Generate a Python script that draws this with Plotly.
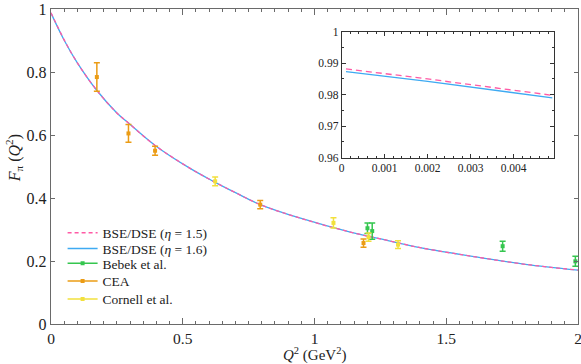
import plotly.graph_objects as go

# ---- model curves (main panel) ----
q2_curve = [0, 0.05, 0.1, 0.1735, 0.25, 0.294, 0.395, 0.528, 0.616, 0.7, 0.794,
            0.95, 1.136, 1.2875, 1.401, 1.629, 1.8, 2.0]
f_eta16 = [0.987, 0.901, 0.829, 0.742, 0.670, 0.638, 0.567, 0.494, 0.453, 0.417, 0.379,
           0.335, 0.2918, 0.2634, 0.2423, 0.2107, 0.1895, 0.171]
f_eta15 = [0.988, 0.902, 0.829, 0.742, 0.670, 0.638, 0.567, 0.494, 0.453, 0.417, 0.379,
           0.335, 0.2918, 0.2634, 0.2423, 0.2107, 0.1895, 0.171]

# ---- model curves (inset, small Q^2) ----
q2_inset = [0.0001, 0.002, 0.0049]
f_inset_eta16 = [0.9873, 0.9842, 0.9790]
f_inset_eta15 = [0.9882, 0.9850, 0.9798]

# ---- experimental data ----
bebek_q2 = [1.201, 1.219, 1.714, 1.990]
bebek_f = [0.304, 0.295, 0.247, 0.199]
bebek_err = [0.017, 0.026, 0.016, 0.016]

cea_q2 = [0.174, 0.294, 0.395, 0.794, 1.186]
cea_f = [0.784, 0.605, 0.550, 0.379, 0.257]
cea_err = [0.045, 0.028, 0.014, 0.013, 0.013]

cornell_q2 = [0.623, 1.072, 1.205, 1.317]
cornell_f = [0.453, 0.321, 0.276, 0.252]
cornell_err = [0.014, 0.016, 0.013, 0.012]

x_ticks = [0, 0.5, 1, 1.5, 2]
x_ticklabels = ["0", "0.5", "1", "1.5", "2"]
y_ticks = [0, 0.2, 0.4, 0.6, 0.8, 1]
y_ticklabels = ["0", "0.2", "0.4", "0.6", "0.8", "1"]
inset_x_ticks = [0, 0.001, 0.002, 0.003, 0.004]
inset_x_ticklabels = ["0", "0.001", "0.002", "0.003", "0.004"]
inset_y_ticks = [0.96, 0.97, 0.98, 0.99, 1.0]
inset_y_ticklabels = ["0.96", "0.97", "0.98", "0.99", "1"]

PINK = "#ff5aa5"
BLUE = "#3eaaf2"
GREEN = "#35c64f"
ORANGE = "#eb9c15"
YELLOW = "#f2e03c"
FONT = "Liberation Serif, DejaVu Serif, serif"

fig = go.Figure()

# main curves
fig.add_trace(go.Scatter(x=q2_curve, y=f_eta16, mode="lines", line=dict(color=BLUE, width=1.3, shape="spline"),
                         name="BSE/DSE (<i>η</i> = 1.6)", legend="legend2"))
fig.add_trace(go.Scatter(x=q2_curve, y=f_eta15, mode="lines",
                         line=dict(color=PINK, width=1.3, dash="4px,3px", shape="spline"),
                         name="BSE/DSE (<i>η</i> = 1.5)", legend="legend"))


def data_trace(x, y, err, color, name, legend_id):
    fig.add_trace(go.Scatter(x=x, y=y, mode="markers", showlegend=False,
                             marker=dict(symbol="square", size=4, color=color),
                             error_y=dict(type="data", array=err, color=color, thickness=1.5, width=3)))
    fig.add_trace(go.Scatter(x=[None], y=[None], mode="lines+markers", name=name, legend=legend_id,
                             marker=dict(symbol="square", size=4, color=color),
                             line=dict(color=color, width=1.5)))


data_trace(bebek_q2, bebek_f, bebek_err, GREEN, "Bebek et al.", "legend3")
data_trace(cea_q2, cea_f, cea_err, ORANGE, "CEA", "legend4")
data_trace(cornell_q2, cornell_f, cornell_err, YELLOW, "Cornell et al.", "legend5")

# inset curves
fig.add_trace(go.Scatter(x=q2_inset, y=f_inset_eta16, mode="lines", xaxis="x2", yaxis="y2",
                         line=dict(color=BLUE, width=1.3), showlegend=False))
fig.add_trace(go.Scatter(x=q2_inset, y=f_inset_eta15, mode="lines", xaxis="x2", yaxis="y2",
                         line=dict(color=PINK, width=1.3, dash="6px,4px"), showlegend=False))

axis_common = dict(showgrid=False, zeroline=False, showline=True, linecolor="#6a6a6a", linewidth=1.4,
                   mirror="ticks", ticks="inside", tickcolor="#6a6a6a", automargin=False,
                   ticklabeloverflow="allow")


def leg(ypos):
    return dict(x=0.022, y=ypos, xanchor="left", yanchor="middle", bgcolor="rgba(0,0,0,0)",
                font=dict(size=13.5), itemwidth=30)


fig.update_layout(
    width=581, height=364, autosize=False,
    margin=dict(l=51, r=3, t=6, b=40, pad=0),
    paper_bgcolor="white", plot_bgcolor="white",
    font=dict(family=FONT, color="#222"),
    xaxis=dict(**axis_common, range=[0, 2], tickvals=x_ticks, ticktext=x_ticklabels, ticklen=6, tickwidth=1,
               tickfont=dict(size=15.5), minor=dict(dtick=0.05, ticklen=3, ticks="inside", tickcolor="#6a6a6a")),
    yaxis=dict(**axis_common, range=[0, 1], tickvals=y_ticks, ticktext=y_ticklabels, ticklen=4, tickwidth=1,
               tickfont=dict(size=16)),
    xaxis2=dict(showgrid=False, zeroline=False, showline=True, linecolor="#333", linewidth=1, mirror="ticks",
                ticks="inside", tickcolor="#333", ticklen=4, anchor="y2", domain=[0.5516, 0.9545],
                range=[0, 0.00494], tickvals=inset_x_ticks, ticktext=inset_x_ticklabels, tickfont=dict(size=11.5),
                minor=dict(dtick=0.0002, ticklen=2, ticks="inside", tickcolor="#333")),
    yaxis2=dict(showgrid=False, zeroline=False, showline=True, linecolor="#333", linewidth=1, mirror="ticks",
                ticks="inside", tickcolor="#333", ticklen=4, anchor="x2", domain=[0.528, 0.928],
                range=[0.96, 1.0], tickvals=inset_y_ticks, ticktext=inset_y_ticklabels, tickfont=dict(size=11.5),
                minor=dict(dtick=0.005, ticklen=2, ticks="inside", tickcolor="#333")),
    legend=leg(0.289),
    legend2=leg(0.239),
    legend3=leg(0.192),
    legend4=leg(0.136),
    legend5=leg(0.079),
    showlegend=True,
    annotations=[
        dict(text="<i>F</i><sub>π</sub> (<i>Q</i><sup>2</sup>)", textangle=-90,
             xref="paper", yref="paper", x=-0.071, y=0.525, xanchor="center", yanchor="middle",
             showarrow=False, font=dict(size=16)),
        dict(text="<i>Q</i><sup>2</sup> (GeV<sup>2</sup>)",
             xref="paper", yref="paper", x=0.5, y=-0.097, xanchor="center", yanchor="middle",
             showarrow=False, font=dict(size=15)),
    ],
)

fig.write_html("out.html", config={"displayModeBar": False},
               post_script="document.body.style.margin='0';document.body.style.padding='0';"
                           "document.body.style.overflow='hidden';")
